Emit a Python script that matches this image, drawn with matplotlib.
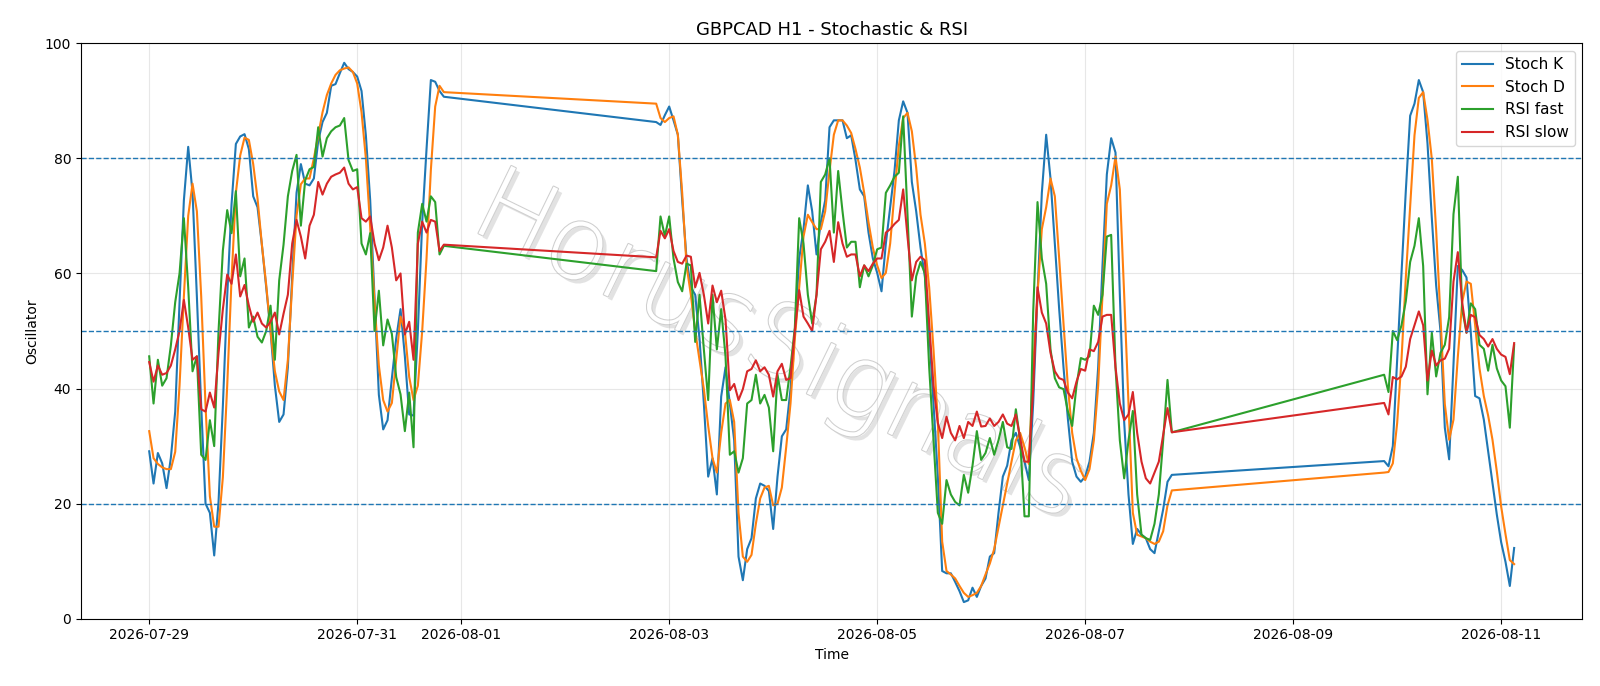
import matplotlib
matplotlib.use("Agg")
import matplotlib.pyplot as plt
import matplotlib.dates as mdates
import matplotlib.patheffects as pe
import pandas as pd
import numpy as np

# segment starts (hourly data, weekend gaps)
seg_starts = ["2026-07-29 00:00", "2026-08-02 21:00", "2026-08-09 21:00"]

stoch_k_1 = [29.1,23.5,28.8,27,22.7,28,36,55,72.7,82,74,56,37,20,18.4,11,20.3,37,56,72,
             82.5,83.8,84.2,81.6,73.4,71.5,65,57.6,50,40.5,34.2,35.5,43.7,59.5,74,79,75.6,75.3,76.5,83,
             86.3,87.9,92.6,92.9,94.8,96.6,95.5,95,94.2,91.7,84,72.7,56,38.9,32.9,34.5,41.8,48.7,53.8,45.6,
             35.5,35.3,50,68.9,81.6,93.6,93.3,91.7,90.7]
stoch_k_2 = [86.3,85.8,87.5,
             89.0,86.6,84.1,72.7,62.6,57.6,56.3,48.7,37.4,24.7,27.9,21.6,38.6,43.7,37.4,31.0,10.8,6.7,
             12.1,14.0,20.9,23.5,23.1,22.2,15.6,24.7,31.7,32.9,39.9,50.0,62.6,67.7,75.3,70.8,63.3,68.9,
             72.7,85.4,86.6,86.6,86.6,83.5,84.0,79.7,74.6,73.4,67.1,62.6,60.1,56.9,65.2,71.5,77.8,86.6,89.9,
             87.9,75.9,70.8,64.5,59.5,50,37.4,24.7,8.3,7.9,7.9,6.4,4.8,2.9,3.2,5.4,3.8,5.7,7,10.8,
             11.4,18.4,24.7,26.6,31,32.3,29.8,27.3,24.1,37.4,56.3,74,84.1,76.5,65.2,53.8,43.7,34.8,27.3,24.7,
             23.8,24.7,27.3,32.3,43.7,61.4,77.2,83.5,81,56.3,34.2,21.6,13,15.6,14.6,14,12.1,11.4,15.2,
             19,23.8,25]
stoch_k_3 = [27.4,26.5,30,45,60,74.4,87.4,89.5,93.6,91.5,82.6,69.6,57.9,50,33.2,27.7,44.2,61.3,60.6,59.3,
             49.7,38.7,38.3,34.6,29.1,23.6,18.1,13.3,9.9,5.7,12.3]

stoch_d_1 = [32.6,27.9,26.9,26.3,26,26,29,40.5,56,70,75.6,70.8,56,37,21.3,16,16,24.6,40.5,59,
             74,80.5,83.6,83.2,79,73,65,58,50,43,39.5,38,45,58,70,75.5,
             76.5,76.5,80,84,88,91,93,94.5,95.3,95.6,
             95.8,95,93,88,80,68,55,44,38,36,37.5,45,52.5,50,42,38,40.5,50,62.6,78,89,92.6,91.5]
stoch_d_2 = [89.5,87,86.3,
             87,87.3,84.1,74,61.4,56.3,50,44.9,39.9,33.5,27.9,25.4,32.3,37.4,38,34.2,18.4,10.8,9.9,11.1,
             16.5,20.9,22.8,23.1,19.7,20,22.8,29.8,37.4,48.7,57.6,66.4,70.2,68.9,67.7,67.7,70.8,77.8,84.1,
             86.6,86.6,85.7,84.4,81.6,78.4,74,68.9,64.5,61.4,59.2,60.1,65.2,74,82.2,87,
             87.9,84.7,78.4,70.2,65.2,57.6,46.8,34.2,13.4,8.3,7.7,7,5.7,4.5,3.8,4.1,4.5,5.7,7.7,9.6,
             12.1,15.9,19.7,23.5,27.3,31,32.3,29.8,26.9,43.7,56.3,67.7,71.5,76.5,73.4,62.6,51.3,40.5,32.3,27.9,
             25.7,24.1,26,31,40.5,56.3,72.1,75.3,80.3,74.6,56.3,37.4,18.4,14.6,14.3,14,13.4,13,13.4,
             15.2,19.7,22.3]
stoch_d_3 = [25.4,25.5,27,34,45,59.3,71.6,84,90.5,91.5,86.7,79.9,67.5,52.4,37.3,31.1,34.6,45.5,55,58.6,
             58.2,51,43.5,38.7,35.3,31.1,25.6,19.5,14.7,10.2,9.5]

rsi_fast_1 = [45.6,37.4,45,40.5,41.8,47.5,55,60,69.6,57.6,43,45.6,28.5,27.6,34.5,30,50,64,71,67,
              74.3,59.5,62.6,50.6,52.5,49,48,50,54.4,45,58.8,65,73.4,77.8,80.6,68.3,76.2,78.1,78.5,85.4,
              80.3,83.5,84.7,85.4,85.7,87,79.7,77.8,78.1,
              65.2,63.3,67,50,57,47.5,52,49.5,42,39,32.6,39.3,29.8,67.1,72.1,69,73.4,72.4,63.3,64.8]
rsi_fast_2 = [60.4,69.9,66.5,
              69.9,62.6,58.5,56.9,61.7,61.4,48.1,56.3,46.8,38,56.3,46.8,53.8,45.6,28.5,29.1,25.4,27.9,37.4,38,
              42.4,37.4,38.9,36.7,29.1,42.4,38,38,43.7,50.6,69.6,65.2,56.3,51.3,56.3,75.9,77.2,80,67.1,77.8,
              70.8,64.5,65.5,65.5,57.6,61.4,59.5,61.4,64.2,64.5,74,75.3,76.8,77.5,87.3,
              70.2,52.5,59.5,62,60,43.7,31,18.4,16.5,24.1,21.6,20.3,19.7,25,21.9,26.6,32.6,27.6,28.8,31.4,
              28.5,31,34.2,29.8,29.5,36.4,31,17.8,17.8,53.2,72.4,62.6,58.2,46.8,41.8,40.2,39.9,36.1,33.5,40.5,
              45.3,45,45.6,54.4,52.8,56.3,66.4,66.7,43.7,31,24.4,31,36.1,21.6,14.6,14,13.7,16.5,21.6,31,
              41.5,32.4]
rsi_fast_3 = [42.4,39.4,50,48.4,51,55.2,62,64.8,69.6,61.3,39,49.7,42.1,46.2,47.6,52.4,70.3,76.8,53.8,49.7,
              54.8,53.8,47.6,46.9,43.1,47.6,43.5,41.4,40.4,33.2,47.6]

rsi_slow_1 = [44.6,41.2,44,42.4,42.7,44,46.8,50,55.4,50.6,45,45.6,36.4,36,39.3,36.7,46.2,53.8,59.8,58.2,
              63.3,56,58,54.4,51.6,53.2,51.3,50.6,51.6,53.2,
              49.4,53,56.3,65.2,69.3,66.4,62.6,68.3,70.2,75.9,73.7,75.6,76.8,77.2,77.5,78.4,75.6,74.6,75,69.6,
              69,69.9,65.2,62.3,64.5,68.3,64.5,58.8,60,49.4,51.6,45,65.2,69,67.1,69.3,69,63.9,65]
rsi_slow_2 = [62.8,67.4,66.1,
              67.7,63.9,62,61.7,63.1,62.9,57.6,60.1,56.3,51.3,57.9,55,57,52,39.7,40.8,38,39.9,43,43.4,
              44.9,43,43.7,42.4,38.6,43,44.3,41.5,41.8,50,57.1,52.5,51.3,50,56.3,64.2,65.5,67.4,62,68.9,
              65.2,62.9,63.3,63.3,59.5,61.4,60.4,61.7,62.6,62.6,67.1,67.7,68.6,69.3,74.6,
              66.4,58.8,62,62.9,62.3,51.3,40.5,34,31.4,35.1,32.3,31,33.5,31.4,34.2,33.5,36,33.4,33.5,34.8,
              33.5,34.2,35.5,33.9,33.5,35.5,31.4,27.3,27.3,39.9,57.6,53.2,51.3,46.2,43,41.8,41.5,39.3,38.3,41.2,
              43.4,43.1,46.8,46.5,48.1,52.5,52.8,52.8,43.7,37.4,34.5,35.5,39.4,32.3,27.3,24.4,23.5,25.4,27.3,32,
              36.6,32.4]
rsi_slow_3 = [37.5,35.5,42,41.6,42.1,43.8,48.6,51,53.4,51,41.4,46.6,44,44.9,45.2,46.9,58.6,63.7,55,49.7,
              52.8,52.4,49.3,48.6,47.3,48.6,46.9,45.9,45.5,42.5,47.9]

tick_dates = ["2026-07-29", "2026-07-31", "2026-08-01", "2026-08-03", "2026-08-05",
              "2026-08-07", "2026-08-09", "2026-08-11"]
levels = [80, 50, 20]


def seg_times(segs):
    return pd.DatetimeIndex(np.concatenate([
        pd.date_range(s, periods=len(v), freq="h").values for s, v in zip(seg_starts, segs)]))


series = [
    ([stoch_k_1, stoch_k_2, stoch_k_3], "#1f77b4", "Stoch K"),
    ([stoch_d_1, stoch_d_2, stoch_d_3], "#ff7f0e", "Stoch D"),
    ([rsi_fast_1, rsi_fast_2, rsi_fast_3], "#2ca02c", "RSI fast"),
    ([rsi_slow_1, rsi_slow_2, rsi_slow_3], "#d62728", "RSI slow"),
]

fig = plt.figure(figsize=(16, 6.86), dpi=100)
ax = fig.add_axes([0.0506, 0.098, 0.9384, 0.839])
ax.text(0.465, 0.47, "HorusSignals", transform=ax.transAxes, fontsize=74, color="white",
        rotation=-26, ha="center", va="center", zorder=1, fontweight="light",
        path_effects=[pe.withSimplePatchShadow(offset=(3, -3), shadow_rgbFace="#d0d0d0", alpha=0.6),
                      pe.withStroke(linewidth=1.5, foreground="#cfcfcf")])
for segs, col, lab in series:
    ax.plot(seg_times(segs), np.concatenate(segs), color=col, lw=1.5, label=lab, zorder=2)
for lv in levels:
    ax.axhline(lv, color="#1f77b4", ls="--", lw=1.0, zorder=2)
ax.set_ylim(0, 100)
ax.grid(True, alpha=0.3)
ax.set_xticks(pd.to_datetime(tick_dates))
ax.xaxis.set_major_formatter(mdates.DateFormatter("%Y-%m-%d"))
ax.set_title("GBPCAD H1 - Stochastic & RSI", fontsize=13)
ax.set_xlabel("Time")
ax.set_ylabel("Oscillator")
ax.legend(loc="upper right", fontsize=11)
fig.savefig("out.png", dpi=100)
